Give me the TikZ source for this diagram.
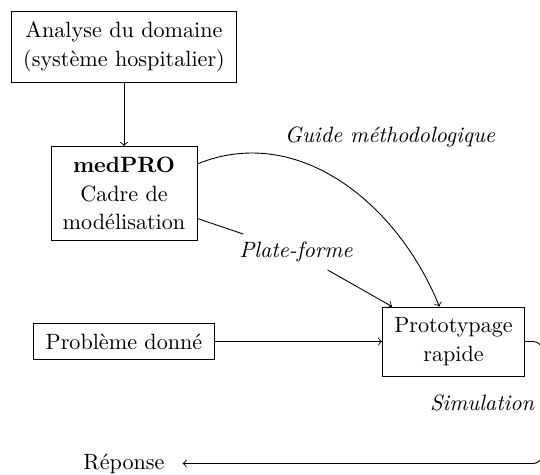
\documentclass[tikz,border=0pt]{standalone}
\usetikzlibrary{positioning}
\tikzset{
  box/.style={draw, align=center, inner xsep=5.3pt, inner ysep=4.7pt, font=\fontsize{10}{13}\selectfont},
  lbl/.style={font=\itshape},
}
\begin{document}
\begin{tikzpicture}[x=0.4515pt,y=-0.4515pt]
  \useasboundingbox (0,0) rectangle (540,474);
  \clip (0,0) rectangle (540,474);
  \node[box] (dom) at (124,47) {Analyse du domaine\\(système hospitalier)};
  \node[box] (med) at (124,193.5) {\textbf{medPRO}\\Cadre de\\modélisation};
  \node[box] (proto) at (453.5,341.5) {Prototypage\\rapide};
  \node[box] (pb) at (124,341.5) {Problème donné};
  \node[inner xsep=8pt] (rep) at (124,463.5) {Réponse};
  \node[lbl] (gm) at (390,137) {Guide méthodologique};
  \node[lbl] (pf) at (296,252) {Plate-forme};
  \coordinate (loop) at (542,403);
  \node[lbl,left] (sim) at (loop) {Simulation};
  \draw[->] (dom) -- (med);
  \draw[->] (pb) -- (proto);
  \draw[->] (med) to[out=22,in=112] (proto);
  \draw (med) -- (pf);
  \draw[->] (pf) -- (proto);
  \draw[->,rounded corners] (proto) -| (loop) |- (rep);
\end{tikzpicture}
\end{document}
